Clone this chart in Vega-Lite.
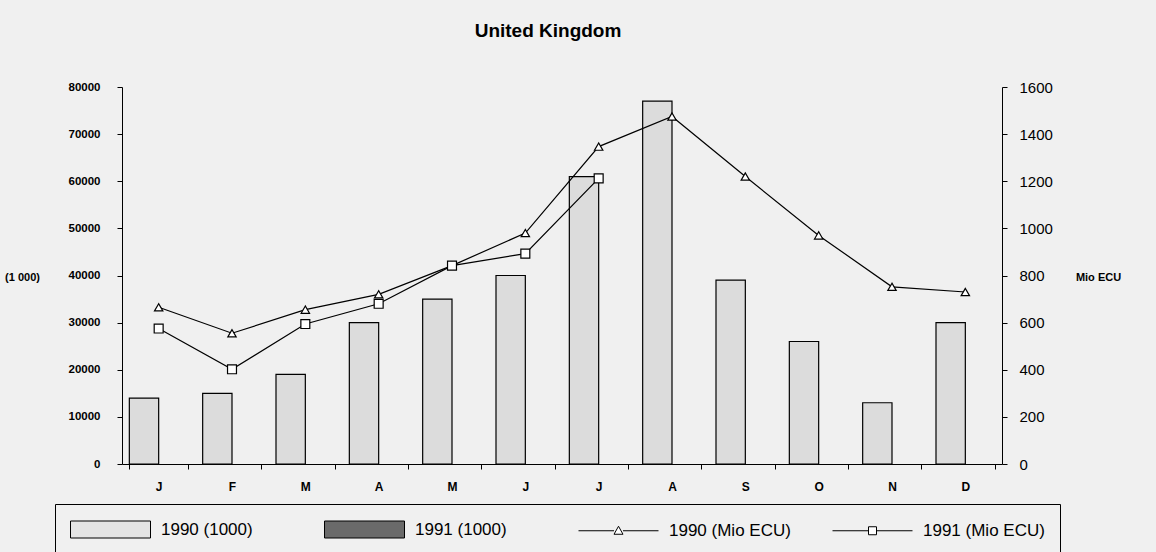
{
  "$schema": "https://vega.github.io/schema/vega-lite/v6.json",
  "width": 880,
  "height": 377,
  "autosize": "none",
  "padding": {"left": 122, "top": 87, "right": 154, "bottom": 88},
  "background": "#f0f0f0",
  "title": {"text": "United Kingdom", "font": "Liberation Sans", "fontSize": 19, "fontWeight": "bold", "color": "black", "anchor": "middle", "dx": -14, "baseline": "alphabetic", "offset": 24},
  "datasets": {
    "bars": [
      {"month": "Jan", "series": "1990", "value": 14000},
      {"month": "Feb", "series": "1990", "value": 15000},
      {"month": "Mar", "series": "1990", "value": 19000},
      {"month": "Apr", "series": "1990", "value": 30000},
      {"month": "May", "series": "1990", "value": 35000},
      {"month": "Jun", "series": "1990", "value": 40000},
      {"month": "Jul", "series": "1990", "value": 61000},
      {"month": "Aug", "series": "1990", "value": 77000},
      {"month": "Sep", "series": "1990", "value": 39000},
      {"month": "Oct", "series": "1990", "value": 26000},
      {"month": "Nov", "series": "1990", "value": 13000},
      {"month": "Dec", "series": "1990", "value": 30000}
    ],
    "ecu": [
      {"month": "Jan", "series": "1990", "ecu": 665},
      {"month": "Feb", "series": "1990", "ecu": 555},
      {"month": "Mar", "series": "1990", "ecu": 655},
      {"month": "Apr", "series": "1990", "ecu": 720},
      {"month": "May", "series": "1990", "ecu": 842},
      {"month": "Jun", "series": "1990", "ecu": 980},
      {"month": "Jul", "series": "1990", "ecu": 1347},
      {"month": "Aug", "series": "1990", "ecu": 1475},
      {"month": "Sep", "series": "1990", "ecu": 1220},
      {"month": "Oct", "series": "1990", "ecu": 970},
      {"month": "Nov", "series": "1990", "ecu": 752},
      {"month": "Dec", "series": "1990", "ecu": 730},
      {"month": "Jan", "series": "1991", "ecu": 575},
      {"month": "Feb", "series": "1991", "ecu": 402},
      {"month": "Mar", "series": "1991", "ecu": 594},
      {"month": "Apr", "series": "1991", "ecu": 680},
      {"month": "May", "series": "1991", "ecu": 842},
      {"month": "Jun", "series": "1991", "ecu": 893},
      {"month": "Jul", "series": "1991", "ecu": 1212}
    ],
    "legend": [
      {"month": "Jan", "key": "1990 (1000)", "ecu": -2000},
      {"month": "Jan", "key": "1991 (1000)", "ecu": -2000},
      {"month": "Jan", "key": "1990 (Mio ECU)", "ecu": -2000},
      {"month": "Jan", "key": "1991 (Mio ECU)", "ecu": -2000}
    ]
  },
  "encoding": {
    "x": {
      "field": "month",
      "type": "nominal",
      "sort": null,
      "title": null,
      "scale": {"domain": ["Jan","Feb","Mar","Apr","May","Jun","Jul","Aug","Sep","Oct","Nov","Dec"], "paddingInner": 0.2, "paddingOuter": 0.1},
      "axis": {"labelExpr": "isValid(datum.value) ? substring(datum.value,0,1) : ''", "labelAngle": 0, "tickBand": "extent", "tickSize": 5, "labelPadding": 12, "labelFontSize": 12, "labelFontWeight": "bold", "domainColor": "black", "tickColor": "black", "labelColor": "black", "labelFont": "Liberation Sans"}
    }
  },
  "layer": [
    {
      "data": {"name": "bars"},
      "mark": {"type": "bar", "fill": "#dcdcdc", "stroke": "black", "strokeWidth": 1.2},
      "encoding": {
        "xOffset": {"field": "series", "type": "nominal", "scale": {"domain": ["1990", "1991"], "paddingInner": 0, "paddingOuter": 0}},
        "y": {
          "field": "value",
          "type": "quantitative",
          "scale": {"domain": [0, 80000], "nice": false},
          "axis": {
            "orient": "left",
            "values": [0,10000,20000,30000,40000,50000,60000,70000,80000],
            "format": "d",
            "grid": false,
            "tickSize": 5,
            "labelPadding": 17,
            "labelFontSize": 11.5,
            "labelFontWeight": "bold",
            "labelFont": "Liberation Sans",
            "labelColor": "black",
            "domainColor": "black",
            "tickColor": "black",
            "title": "(1 000)",
            "titleAngle": 0,
            "titleFont": "Liberation Sans",
            "titleFontSize": 11,
            "titleFontWeight": "bold",
            "titleColor": "black",
            "titleAlign": "center",
            "titleBaseline": "middle",
            "titleX": -100,
            "titleY": 190
          }
        }
      }
    },
    {
      "encoding": {
        "y": {
          "field": "ecu",
          "type": "quantitative",
          "scale": {"domain": [0, 1600], "nice": false},
          "axis": {
            "orient": "right",
            "values": [0,200,400,600,800,1000,1200,1400,1600],
            "format": "d",
            "grid": false,
            "tickSize": 5,
            "labelPadding": 12,
            "labelFontSize": 15,
            "labelFont": "Liberation Sans",
            "labelColor": "black",
            "domainColor": "black",
            "tickColor": "black",
            "title": "Mio ECU",
            "titleAngle": 0,
            "titleFont": "Liberation Sans",
            "titleFontSize": 11,
            "titleFontWeight": "bold",
            "titleColor": "black",
            "titleAlign": "center",
            "titleBaseline": "middle",
            "titleX": 96,
            "titleY": 190
          }
        }
      },
      "layer": [
        {
          "data": {"name": "ecu"},
          "mark": {"type": "line", "stroke": "black", "strokeWidth": 1.2},
          "encoding": {"detail": {"field": "series", "type": "nominal"}}
        },
        {
          "data": {"name": "ecu"},
          "transform": [{"filter": "datum.series === '1990'"}],
          "mark": {"type": "point", "shape": "triangle-up", "filled": true, "fill": "white", "stroke": "black", "strokeWidth": 1.2, "size": 70, "opacity": 1}
        },
        {
          "data": {"name": "ecu"},
          "transform": [{"filter": "datum.series === '1991'"}],
          "mark": {"type": "point", "shape": "square", "filled": true, "fill": "white", "stroke": "black", "strokeWidth": 1.2, "size": 80, "opacity": 1}
        },
        {
          "data": {"name": "legend"},
          "mark": {"type": "point", "filled": true, "stroke": "black", "strokeWidth": 1, "size": 400, "opacity": 1, "clip": true},
          "encoding": {
            "fill": {
              "field": "key",
              "type": "nominal",
              "scale": {"domain": ["1990 (1000)", "1991 (1000)", "1990 (Mio ECU)", "1991 (Mio ECU)"], "range": ["#e4e4e4", "#6a6a6a", "white", "white"]},
              "legend": {"title": null, "orient": "none", "legendX": -67, "legendY": 417, "direction": "horizontal", "columns": 4, "gridAlign": "all", "columnPadding": 39, "padding": 15, "strokeColor": "black", "labelFont": "Liberation Sans", "labelFontSize": 17, "labelColor": "black", "labelOffset": 70, "symbolSize": 400, "symbolStrokeColor": "black", "symbolStrokeWidth": 1, "symbolOpacity": 1, "encode": {"symbols": {"update": {"stroke": {"value": "black"}, "strokeWidth": {"value": 1}}}}}
            },
            "shape": {
              "field": "key",
              "type": "nominal",
              "scale": {"domain": ["1990 (1000)", "1991 (1000)", "1990 (Mio ECU)", "1991 (Mio ECU)"], "range": ["M-1,-0.85H7V0.85H-1Z", "M-1,-0.85H7V0.85H-1Z", "M-1,0H2.55M3.45,0H7M3,-0.45L3.45,0.35H2.55Z", "M-1,0H2.6M3.4,0H7M2.6,-0.4H3.4V0.4H2.6Z"]},
              "legend": {"title": null, "orient": "none", "legendX": -67, "legendY": 417, "direction": "horizontal", "columns": 4, "gridAlign": "all", "columnPadding": 39, "padding": 15, "strokeColor": "black", "labelFont": "Liberation Sans", "labelFontSize": 17, "labelColor": "black", "labelOffset": 70, "symbolSize": 400, "symbolStrokeColor": "black", "symbolStrokeWidth": 1, "symbolOpacity": 1, "encode": {"symbols": {"update": {"stroke": {"value": "black"}, "strokeWidth": {"value": 1}}}}}
            }
          }
        }
      ]
    }
  ],
  "resolve": {"scale": {"y": "independent"}},
  "config": {"view": {"stroke": null}, "axis": {"grid": false}}
}
